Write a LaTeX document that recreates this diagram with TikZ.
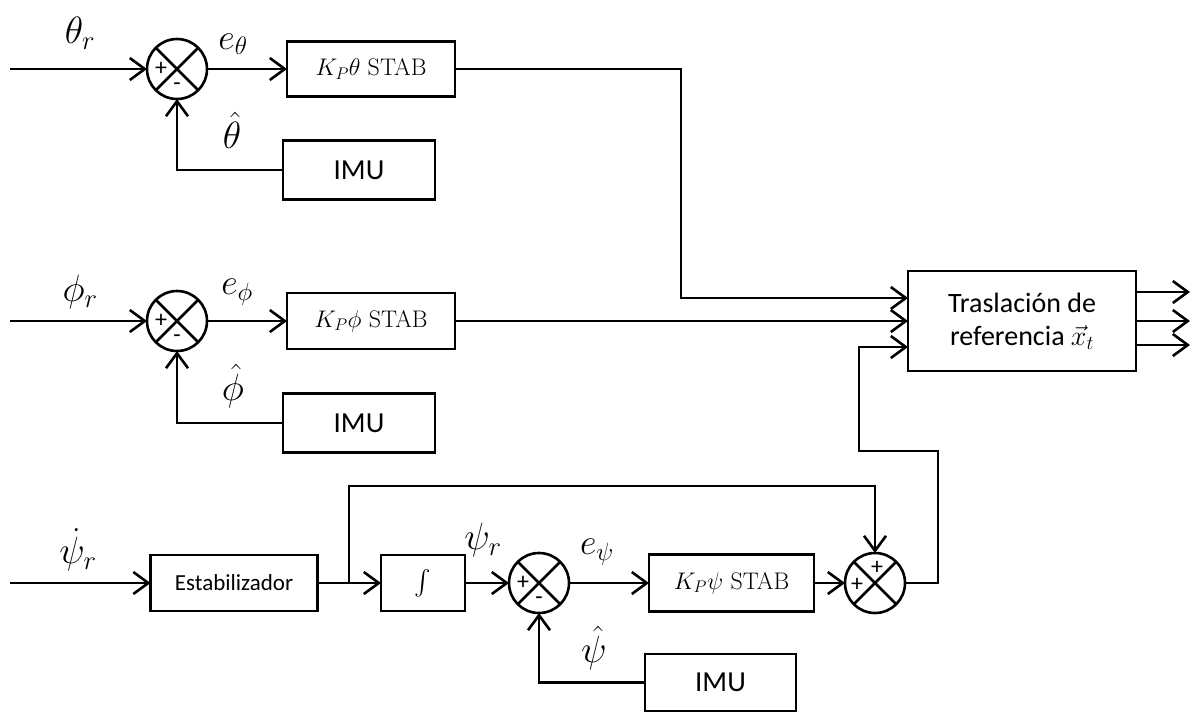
\RequirePackage{fix-cm}
\documentclass[tikz,border=0pt]{standalone}
\usepackage{exscale}
\usepackage{fontspec}
\newfontfamily\calfont{Carlito}
\usetikzlibrary{arrows.meta,calc}
\begin{document}
\begin{tikzpicture}[x=1pt,y=-1pt,
  ln/.style={line width=2.6pt},
  arr/.style={ln,-{Straight Barb[length=15pt,width=22pt,line width=2.6pt]}},
  blk/.style={draw,ln,rectangle,inner sep=0pt,outer sep=0pt,align=center},
  sumc/.style={draw,ln,circle,minimum size=60pt,inner sep=0pt,outer sep=0pt},
  sgn/.style={inner sep=0pt,font=\calfont\fontsize{24}{24}\selectfont},
  big/.style={inner sep=0pt,font=\fontsize{38}{40}\selectfont},
  mid/.style={inner sep=0pt,font=\fontsize{36}{38}\selectfont},
  kfont/.style={font=\fontsize{24}{26}\selectfont},
  imufont/.style={font=\calfont\fontsize{29}{30}\selectfont}
]
\useasboundingbox (0,0) rectangle (1196,713);

% ---------- row 1 (theta) ----------
\coordinate (in1) at (10,69);
\node[sumc] (s1) at (177,69) {};
\node[blk,kfont,minimum width=168pt,minimum height=55pt] (kt) at (371,69) {$K_P\theta$ STAB};
\node[blk,imufont,minimum width=152pt,minimum height=59pt] (imu1) at (359,170) {IMU};
\draw[ln] (s1.45) -- (s1.225) (s1.135) -- (s1.315);
\node[sgn] (s1p) at ([xshift=-16pt]s1.center) {+};
\node[sgn] (s1m) at ([yshift=-18pt]s1.center) {-};
\node[big] (lthr) at (80,33) {$\theta_r$};
\node[mid] (leth) at (233,44) {$e_\theta$};
\node[big] (lthh) at (232,130) {$\hat{\theta}$};

% ---------- row 2 (phi) ----------
\coordinate (in2) at (10,321);
\node[sumc] (s2) at (177,321) {};
\node[blk,kfont,minimum width=168pt,minimum height=56pt] (kf) at (371,321) {$K_P\phi$ STAB};
\node[blk,imufont,minimum width=152pt,minimum height=59pt] (imu2) at (359,423) {IMU};
\draw[ln] (s2.45) -- (s2.225) (s2.135) -- (s2.315);
\node[sgn] (s2p) at ([xshift=-16pt]s2.center) {+};
\node[sgn] (s2m) at ([yshift=-18pt]s2.center) {-};
\node[big] (lphr) at (80,292) {$\phi_r$};
\node[mid] (leph) at (237,292) {$e_\phi$};
\node[big] (lphh) at (233,386) {$\hat{\phi}$};

% ---------- traslacion ----------
\node[blk,font=\calfont\fontsize{28}{33}\selectfont,minimum width=228pt,minimum height=100pt] (tr) at (1022,321)
  {Traslación de\\referencia $\vec{x}_t$};
\coordinate (o1) at (1190,292);
\coordinate (o2) at (1190,321);
\coordinate (o3) at (1190,345);
\draw[arr] (tr.east |- o1) -- (o1);
\draw[arr] (tr.east |- o2) -- (o2);
\draw[arr] (tr.east |- o3) -- (o3);

% ---------- row 3 (psi) ----------
\coordinate (in3) at (10,583);
\node[blk,font=\calfont\fontsize{23}{25}\selectfont,minimum width=167pt,minimum height=56pt] (est) at (234,583) {Estabilizador};
\node[blk,font=\fontsize{28}{30}\selectfont,minimum width=84pt,minimum height=56pt] (int) at (423,583) {$\int$};
\node[sumc] (s3) at (539,583) {};
\node[blk,kfont,minimum width=165pt,minimum height=57pt] (kp) at (731.5,583) {$K_P\psi$ STAB};
\node[sumc] (s4) at (875,583) {};
\node[blk,imufont,minimum width=151pt,minimum height=57pt] (imu3) at (720.5,682.5) {IMU};
\draw[ln] (s3.45) -- (s3.225) (s3.135) -- (s3.315);
\draw[ln] (s4.45) -- (s4.225) (s4.135) -- (s4.315);
\node[sgn] (s3p) at ([xshift=-16pt]s3.center) {+};
\node[sgn] (s3m) at ([yshift=-18pt]s3.center) {-};
\node[sgn] (s4p) at ([xshift=-18pt,yshift=-2pt]s4.center) {+};
\node[sgn] (s4q) at ([xshift=2pt,yshift=15pt]s4.center) {+};
\node[big] (lpsd) at (78,550) {$\dot{\psi}_r$};
\node[big] (lpsr) at (483,540) {$\psi_r$};
\node[mid] (leps) at (597,552) {$e_\psi$};
\node[big] (lpsh) at (594,648) {$\hat{\psi}$};

\coordinate (br) at (349,583);
\coordinate (tp) at (349,486);
\coordinate (k1) at (681,298);
\coordinate (r1) at (938,451);
\coordinate (r2) at (859,347);

% ---------- connectors ----------
\draw[arr] (in1) -- (s1);
\draw[arr] (s1) -- (kt);
\draw[arr] (imu1.west) -| (s1.south);
\draw[arr] (kt.east) -| (k1) -- (tr.west |- k1);

\draw[arr] (in2) -- (s2);
\draw[arr] (s2) -- (kf);
\draw[arr] (imu2.west) -| (s2.south);
\draw[arr] (kf.east) -- (tr.west |- kf.east);

\draw[arr] (in3) -- (est);
\draw[arr] (est) -- (int);
\draw[arr] (br) -- (tp) -| (s4.north);
\draw[arr] (int) -- (s3);
\draw[arr] (s3) -- (kp);
\draw[arr] (kp) -- (s4);
\draw[arr] (imu3.west) -| (s3.south);
\draw[arr] (s4.east) -| (r1) -| (r2) -- (tr.west |- r2);
\end{tikzpicture}
\end{document}
